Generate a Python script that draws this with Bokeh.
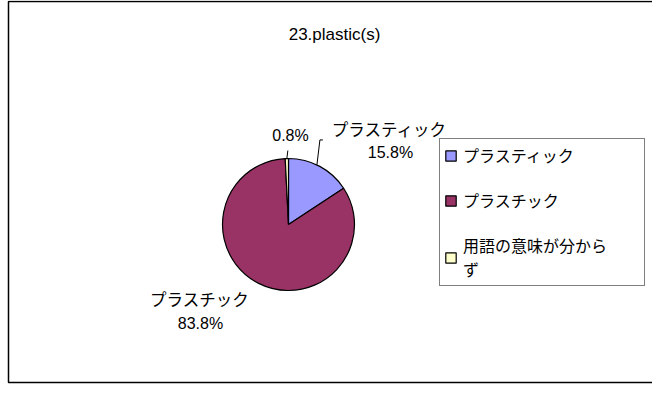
import math
from bokeh.plotting import figure
from bokeh.models import Range1d, Legend, LegendItem, Label, ColumnDataSource, BoxAnnotation
from bokeh.core.properties import value
from bokeh.embed import file_html
from bokeh.resources import INLINE

# ---- data ----
title_text = "23.plastic(s)"
categories = ["プラスティック", "プラスチック", "用語の意味が分からず"]
legend_labels = ["プラスティック", "プラスチック", "用語の意味が分から\nず"]
percents = [15.8, 83.8, 0.8]
colors = ["#9999FF", "#993366", "#FFFFCC"]

# ---- layout constants (screen pixels inside the figure) ----
W, H = 652, 386
CX, CY = 288, 162
R = 66
JP_FONT = "Noto Sans CJK JP"
LAT_FONT = "Liberation Sans"

p = figure(width=W, height=H, output_backend="svg", toolbar_location=None,
           x_range=Range1d(0, W), y_range=Range1d(0, H), min_border=0)
p.axis.visible = False
p.grid.visible = False
p.outline_line_color = None
p.background_fill_color = "white"
p.border_fill_color = "white"

# chart-area frame (right edge runs off the picture, as in the original)
p.add_layout(BoxAnnotation(left=8, right=W + 20, top=4, bottom=H - 1,
                           left_units="screen", right_units="screen",
                           top_units="screen", bottom_units="screen",
                           fill_alpha=0, line_color="black", line_alpha=1.0,
                           line_width=1.5))

total = sum(percents)
starts, ends = [], []
acc = 0.0
for v in percents:
    starts.append(math.pi / 2 - 2 * math.pi * acc / total)
    acc += v
    ends.append(math.pi / 2 - 2 * math.pi * acc / total)

src = ColumnDataSource(dict(x=[CX] * len(percents), y=[CY] * len(percents),
                            start=starts, end=ends, color=colors))
wedges = p.wedge(x="x", y="y", radius=R, radius_units="screen",
                 start_angle="start", end_angle="end", direction="clock",
                 fill_color="color", line_color="black", line_width=1.2, source=src)

# data labels: name line (for the two large slices) and percentage line
name_dx = [101, -89, None]
name_dy = [96, -74, None]
pct_dx = [102, -88, 2]
pct_dy = [72, -99, 89]

nx, ny, nt = [], [], []
for i, c in enumerate(categories):
    if name_dx[i] is not None:
        nx.append(CX + name_dx[i]); ny.append(CY + name_dy[i]); nt.append(c)
p.text(x=nx, y=ny, text=nt, text_font=value(JP_FONT), text_font_size="16.5px",
       text_align="center", text_baseline="middle", text_color="black")

px = [CX + d for d in pct_dx]
py = [CY + d for d in pct_dy]
pt = [f"{v:.1f}%" for v in percents]
p.text(x=px, y=py, text=pt, text_font=value(LAT_FONT), text_font_size="16px",
       text_align="center", text_baseline="middle", text_color="black")

# leader lines (from slice edge toward label)
def edge_point(frac_mid):
    a = math.pi / 2 - 2 * math.pi * frac_mid
    return CX + R * math.cos(a), CY + R * math.sin(a)

cum = [0.0]
for v in percents:
    cum.append(cum[-1] + v / total)
bx, by = edge_point(cum[0] + (cum[1] - cum[0]) * 0.45)
p.line(x=[bx, bx + 3, bx + 6], y=[by, by + 25, by + 25], line_color="black", line_width=1)
yx, yy = edge_point((cum[2] + cum[3]) / 2)
p.line(x=[yx, yx + 1], y=[yy, yy + 8], line_color="black", line_width=1)

# title
p.add_layout(Label(x=334, y=352, text=title_text, text_align="center",
                   text_baseline="middle", text_font=LAT_FONT,
                   text_font_size="17px", text_color="black"))

# legend
items = [LegendItem(label=legend_labels[i], renderers=[wedges], index=i)
         for i in range(len(categories))]
legend = Legend(items=items, location=(439, 100), orientation="vertical",
                glyph_width=13, glyph_height=13, label_standoff=6,
                label_text_font=JP_FONT, label_text_font_size="16px",
                label_text_color="black",
                label_height=20, label_width=177, spacing=21, padding=4,
                margin=0, border_line_color="black", border_line_width=1,
                background_fill_color="white", background_fill_alpha=1.0)
p.add_layout(legend)

open("out.html", "w").write(file_html(p, INLINE))
